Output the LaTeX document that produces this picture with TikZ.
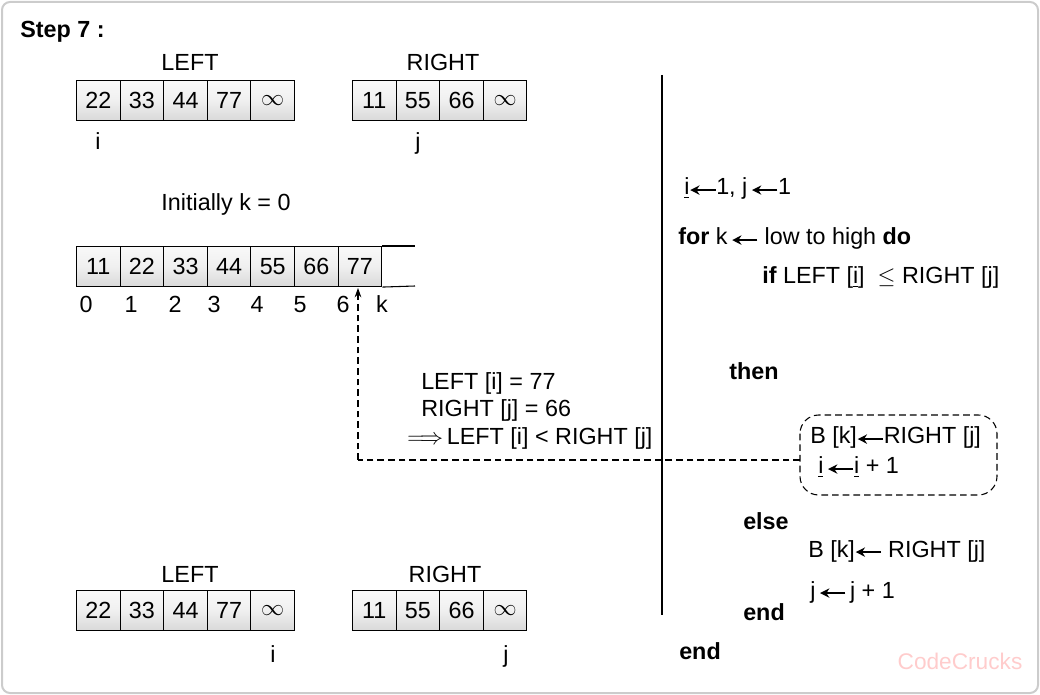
\documentclass[tikz,border=0pt]{standalone}
\usepackage{fontspec}
\setmainfont{Liberation Sans}
\usetikzlibrary{arrows.meta}
\newcommand{\larr}{\tikz[x=1pt,y=1pt,baseline=-0.4ex]\draw[line width=1.1pt,-{Stealth[length=7pt,width=7pt]}] (19,0)--(0,0);}
\newcommand{\ul}[1]{\underline{#1}}
\begin{document}
\begin{tikzpicture}[x=0.75pt,y=-0.75pt,
  cell/.style={draw,line width=0.8pt,minimum width=43.6*0.75pt,minimum height=40*0.75pt,inner sep=0,anchor=north west,top color=gray!5,bottom color=gray!30,middle color=gray!12,font=\fontsize{17.5}{20}\selectfont},
  txt/.style={font=\fontsize{17.5}{20}\selectfont,inner sep=0,anchor=base west},
  ctxt/.style={font=\fontsize{17.5}{20}\selectfont,inner sep=0,anchor=base},
  dsh/.style={dashed,dash pattern=on 5pt off 3pt,line width=0.8pt}]
\path[use as bounding box] (0,0) rectangle (1040,695);
\draw[gray!40,line width=1.5pt,rounded corners=6pt] (2,2) rectangle (1038,693);
\node[font=\bfseries\fontsize{17.5}{20}\selectfont,inner sep=0,anchor=base west] (st) at (20,38) {Step 7 :};
% top arrays
\foreach \v [count=\n from 0] in {22,33,44,77,$\infty$}
  \node[cell] (a\n) at ({76+43.6*\n},80) {\v};
\foreach \v [count=\n from 0] in {11,55,66,$\infty$}
  \node[cell] (b\n) at ({352+43.6*\n},80) {\v};
\node[ctxt] (lt) at (190,71) {LEFT};
\node[ctxt] (rt) at (443,71) {RIGHT};
\node[ctxt] (ti) at (98,150) {i};
\node[ctxt] (tj) at (418,150) {j};
\node[ctxt] (ik) at (226,211) {Initially k = 0};
% merged array
\foreach \v [count=\n from 0] in {11,22,33,44,55,66,77}
  \node[cell] (m\n) at ({76+43.6*\n},246) {\v};
\coordinate (mt) at (415,246); \coordinate (mb) at (415,286);
\draw[line width=0.8pt] (m6.north east) -- (mt);
\draw[line width=0.8pt] (m6.south east) -- (mb);
\foreach \v/\x in {0/86,1/131,2/175,3/214,4/257,5/300,6/343,k/382}
  \node[ctxt] (ix\v) at (\x,313) {\v};
\coordinate (ah) at (358,288);
\coordinate (corner) at (358,460);
% explanation
\node[txt] (e1) at (421,390) {LEFT [i] = 77};
\node[txt] (e2) at (421,417) {RIGHT [j] = 66};
\node[txt] (e3) at (407,445) {$\Longrightarrow$\,LEFT [i] < RIGHT [j]};
% divider
\coordinate (d1) at (662,75); \coordinate (d2) at (662,615);
\draw[line width=1pt] (d1) -- (d2);
% algorithm
\node[txt] (p1) at (684,195) {\ul{i}\larr1, j\,\larr1};
\node[txt] (p2) at (678,245) {\textbf{for} k\,\larr\ low to high \textbf{do}};
\node[txt] (p3) at (762,284) {\textbf{if} LEFT [\ul{i}]\ \ $\leq$\ RIGHT [j]};
\node[txt] (p4) at (729,380) {\textbf{then}};
\node[txt] (p5) at (810,444) {B [k]\larr RIGHT [j]};
\node[txt] (p6) at (818,474) {\ul{i}\,\larr\ul{i} + 1};
\draw[dsh,rounded corners=14pt] (800,415) rectangle (997,495);
\coordinate (bx) at (800,460);
\draw[dsh] (bx) -- (corner);
\draw[dsh,-{Stealth[length=7pt,width=5pt]}] (corner) -- (ah);
\node[txt] (p7) at (743,530) {\textbf{else}};
\node[txt] (p8) at (808,557) {B [k]\larr\ RIGHT [j]};
\node[txt] (p9) at (810,598) {j\,\larr\,j + 1};
\node[txt] (p10) at (743,620) {\textbf{end}};
\node[txt] (p11) at (679,659) {\textbf{end}};
% bottom arrays
\foreach \v [count=\n from 0] in {22,33,44,77,$\infty$}
  \node[cell] (c\n) at ({76+43.6*\n},590) {\v};
\foreach \v [count=\n from 0] in {11,55,66,$\infty$}
  \node[cell] (d\n) at ({352+43.6*\n},590) {\v};
\node[ctxt] (lb) at (190,582) {LEFT};
\node[ctxt] (rb) at (445,582) {RIGHT};
\node[ctxt] (bi) at (273,662) {i};
\node[ctxt] (bj) at (506,662) {j};
\node[font=\fontsize{17}{19}\selectfont,text=red!20,inner sep=0] (wm) at (960,661) {CodeCrucks};
\end{tikzpicture}
\end{document}
